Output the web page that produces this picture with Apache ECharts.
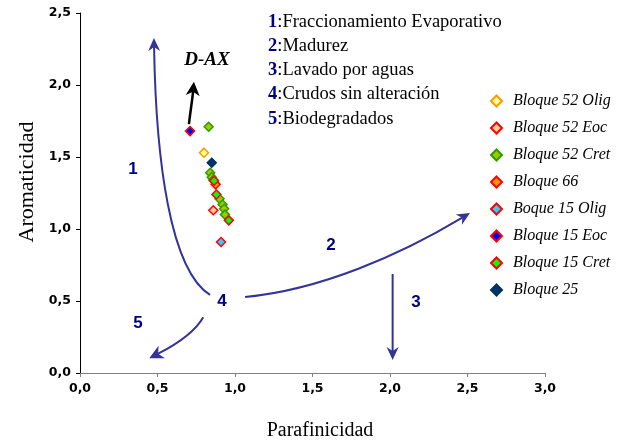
<!DOCTYPE html>
<html>
<head>
<meta charset="utf-8">
<script src="https://cdn.jsdelivr.net/npm/echarts@6/dist/echarts.min.js"></script>
<style>
html,body{margin:0;padding:0;background:#fff;}
#chart{width:636px;height:441px;}
</style>
</head>
<body>
<div id="chart"></div>
<script>
// ---- data ----
const seriesNames = ['Bloque 52 Olig','Bloque 52 Eoc','Bloque 52 Cret','Bloque 66','Boque 15 Olig','Bloque 15 Eoc','Bloque 15 Cret','Bloque 25'];
const b52Olig = [[0.80,1.53]];
const b52Eoc  = [[0.86,1.13]];
const b52Cret = [[0.83,1.71],[0.84,1.39],[0.85,1.36],[0.86,1.34],[0.90,1.21],[0.92,1.17],[0.93,1.14],[0.935,1.10]];
const b66     = [[0.875,1.31]];
const b15Olig = [[0.91,0.91]];
const b15Eoc  = [[0.71,1.68]];
const b15Cret = [[0.865,1.335],[0.88,1.24],[0.96,1.06]];
const b25     = [[0.85,1.46]];
const xTicks = [0,0.5,1,1.5,2,2.5,3];
const yTicks = [0,0.5,1,1.5,2,2.5];

// annotation arrows (data coords): start, control1, control2, end
const arrow1 = [0.839,0.542, 0.581,0.715, 0.490,1.479, 0.477,2.326];
const arrow2 = [1.065,0.528, 1.548,0.576, 2.065,0.819, 2.516,1.111];
const arrow3 = [2.017,0.6875, 2.017,0.5, 2.017,0.3, 2.017,0.09];
const arrow5 = [0.795,0.387, 0.742,0.285, 0.613,0.194, 0.447,0.102];
const arrowDAX = [0.703,1.729, 0.71,1.8, 0.725,1.9, 0.735,2.023];

const defs = [['1',':Fraccionamiento Evaporativo'],['2',':Madurez'],['3',':Lavado por aguas'],['4',':Crudos sin alteración'],['5',':Biodegradados']];
const numLabels = [['1',133,169],['2',331,245],['3',416,302],['4',222,301],['5',138,323]];

// ---- styles ----
const styles = [
  {fill:'#FFFF99', border:'#FF9900'},
  {fill:'#FFCC99', border:'#FF0000'},
  {fill:'#99CC00', border:'#339900'},
  {fill:'#FF9900', border:'#FF0000'},
  {fill:'#33CCFF', border:'#FF0000'},
  {fill:'#0000FF', border:'#FF0000'},
  {fill:'#00FF00', border:'#FF0000'},
  {fill:'#003366', border:'#003366'}
];
const seriesData = [b52Olig,b52Eoc,b52Cret,b66,b15Olig,b15Eoc,b15Cret,b25];
const arrowList = [arrow1, arrow2, arrow3, arrow5, arrowDAX];
const arrowStyle = [
  {color:'#333399', w:2, L:13, W:6},
  {color:'#333399', w:2, L:13, W:6},
  {color:'#333399', w:2, L:13, W:6},
  {color:'#333399', w:2, L:14, W:7},
  {color:'#000000', w:2.5, L:14, W:7}
];

function renderArrow(params, api) {
  const s = arrowStyle[params.dataIndex];
  const p1 = api.coord([api.value(0), api.value(1)]);
  const c1 = api.coord([api.value(2), api.value(3)]);
  const c2 = api.coord([api.value(4), api.value(5)]);
  const p2 = api.coord([api.value(6), api.value(7)]);
  let dx = p2[0]-c2[0], dy = p2[1]-c2[1];
  let len = Math.sqrt(dx*dx+dy*dy) || 1;
  dx/=len; dy/=len;
  const nx = -dy, ny = dx;
  const L = s.L, W = s.W, notch = 4;
  const base = [p2[0]-dx*L, p2[1]-dy*L];
  const endLine = [p2[0]-dx*(L-notch), p2[1]-dy*(L-notch)];
  const head = [
    [p2[0], p2[1]],
    [base[0]+nx*W, base[1]+ny*W],
    [endLine[0], endLine[1]],
    [base[0]-nx*W, base[1]-ny*W]
  ];
  return {
    type:'group',
    children:[
      {type:'bezierCurve', shape:{x1:p1[0],y1:p1[1],cpx1:c1[0],cpy1:c1[1],cpx2:c2[0],cpy2:c2[1],x2:endLine[0],y2:endLine[1]},
       style:{stroke:s.color, lineWidth:s.w, fill:null}},
      {type:'polygon', shape:{points:head}, style:{fill:s.color, stroke:null}}
    ]
  };
}

const fmt = v => v.toFixed(1).replace('.', ',');

const series = seriesNames.map((n,i)=>({
  name:n, type:'scatter', symbol:'diamond', symbolSize:9,
  itemStyle:{color:styles[i].fill, borderColor:styles[i].border, borderWidth:1.5, opacity:1},
  data:seriesData[i], z:5
}));
series.unshift({
  type:'custom', renderItem:renderArrow, data:arrowList,
  dimensions:['x1','y1','cx1','cy1','cx2','cy2','x2','y2'],
  encode:{x:[0,2,4,6], y:[1,3,5,7]}, silent:true, z:3
});

const graphics = [];
defs.forEach((d,i)=>{
  graphics.push({type:'text', left:268, top:12.5+i*24.2, silent:true,
    style:{text:'{n|'+d[0]+'}{t|'+d[1]+'}',
      rich:{n:{fontFamily:'Liberation Serif', fontWeight:'bold', fontSize:18.5, fill:'#000080', color:'#000080'},
            t:{fontFamily:'Liberation Serif', fontSize:18.5, fill:'#000', color:'#000'}}}});
});
numLabels.forEach(l=>{
  graphics.push({type:'text', x:l[1], y:l[2], silent:true,
    style:{text:l[0], font:'bold 17px "Liberation Sans"', fill:'#000080', align:'center', verticalAlign:'middle'}});
});
graphics.push({type:'text', x:207, y:60, silent:true,
  style:{text:'D-AX', font:'italic bold 19px "Liberation Serif"', fill:'#000', align:'center', verticalAlign:'middle'}});
graphics.push({type:'text', x:320, y:431, silent:true,
  style:{text:'Parafinicidad', font:'20px "Liberation Serif"', fill:'#000', align:'center', verticalAlign:'middle'}});
graphics.push({type:'text', x:27, y:182, rotation:Math.PI/2, silent:true,
  style:{text:'Aromaticidad', font:'22px "Liberation Serif"', fill:'#000', align:'center', verticalAlign:'middle'}});

const chart = echarts.init(document.getElementById('chart'), null, {renderer:'canvas'});
chart.setOption({
  animation:false,
  backgroundColor:'#fff',
  grid:{left:80, right:91, top:13, bottom:68},
  xAxis:{type:'value', min:xTicks[0], max:xTicks[xTicks.length-1], interval:0.5,
    axisLine:{show:true, onZero:false, lineStyle:{color:'#808080', width:1}},
    axisTick:{show:true, length:4, lineStyle:{color:'#808080'}},
    splitLine:{show:false},
    axisLabel:{formatter:fmt, margin:9, fontFamily:'DejaVu Sans', fontWeight:900, fontSize:12.5, color:'#000'}},
  yAxis:{type:'value', min:yTicks[0], max:yTicks[yTicks.length-1], interval:0.5,
    axisLine:{show:true, onZero:false, lineStyle:{color:'#000', width:1}},
    axisTick:{show:true, length:4, lineStyle:{color:'#000'}},
    splitLine:{show:false},
    axisLabel:{formatter:fmt, margin:9, fontFamily:'DejaVu Sans', fontWeight:900, fontSize:12.5, color:'#000'}},
  legend:{orient:'vertical', left:485, top:88, itemWidth:11, itemHeight:11, itemGap:11,
    data:seriesNames,
    textStyle:{fontFamily:'Liberation Serif', fontStyle:'italic', fontSize:16, color:'#000', padding:[0,0,0,6]}},
  graphic:graphics,
  series:series
});
</script>
</body>
</html>
